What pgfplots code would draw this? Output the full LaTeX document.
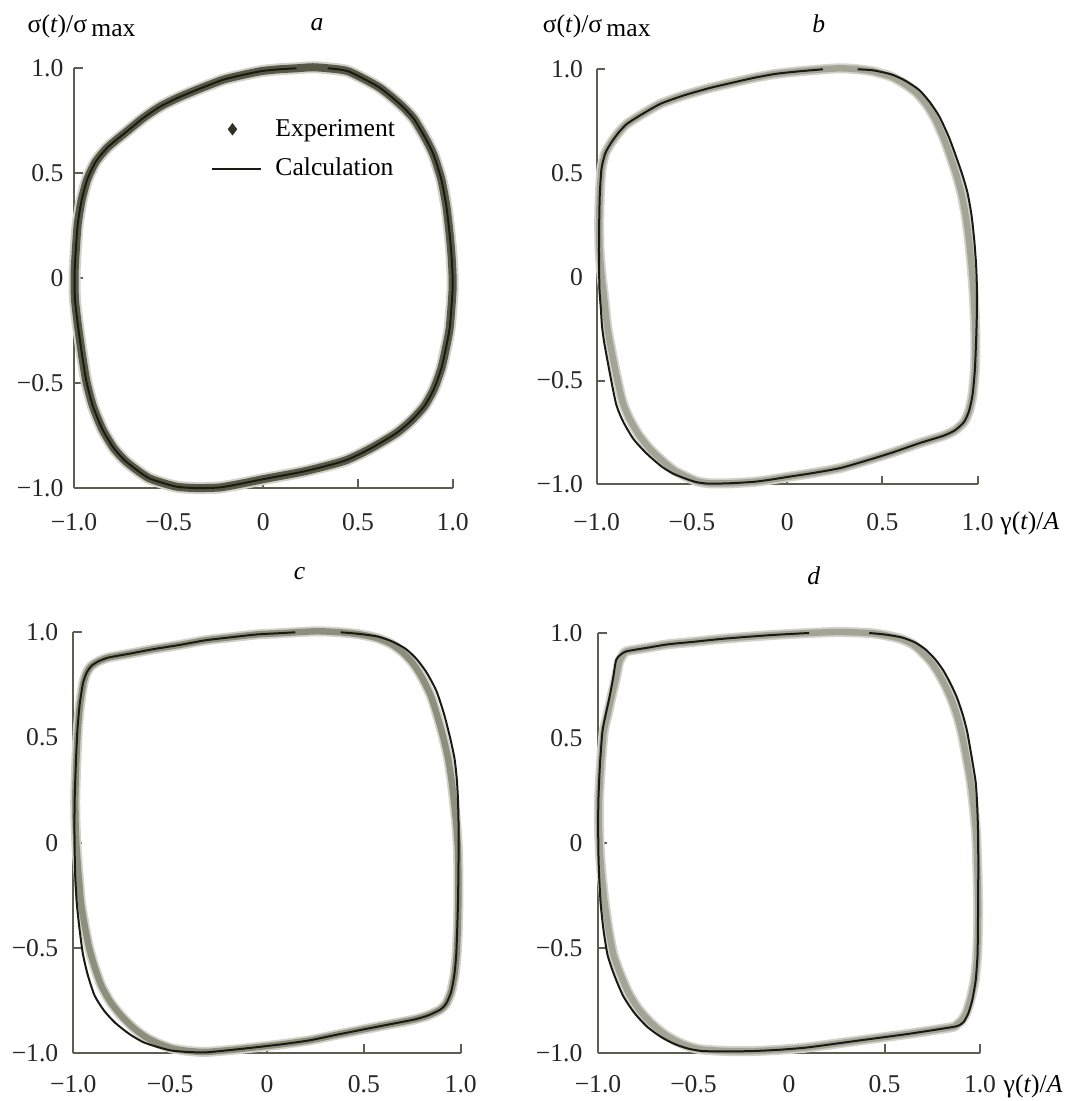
\documentclass[border=0pt]{standalone}
\usepackage{fontspec}
\setmainfont{Liberation Serif}
\usepackage{pgfplots}
\pgfplotsset{compat=1.18}

\definecolor{axcol}{HTML}{5E5E50}
\definecolor{banddark}{HTML}{585846}
\definecolor{bandlight}{HTML}{A3A396}
\definecolor{bandmid}{HTML}{8E8E7C}
\definecolor{halocol}{HTML}{D2D2CA}
\definecolor{calccol}{HTML}{1A1A14}

\newcommand{\lblfont}{\fontsize{12.8}{15}\selectfont}

\pgfplotsset{
  loop/.style={
    scale only axis, axis lines=left,
    axis line style={-, draw=axcol, line width=1pt},
    xmin=-1, xmax=1, ymin=-1, ymax=1,
    xtick={-1,-0.5,0,0.5,1}, ytick={-1,-0.5,0,0.5,1},
    xticklabels={−1.0,−0.5,0,0.5,1.0},
    yticklabels={−1.0,−0.5,0,0.5,1.0},
    tick align=inside, major tick length=4.3pt,
    tick style={draw=axcol, line width=1pt},
    tick label style={font=\lblfont, text=black!85},
    clip=false, anchor=south west,
  },
  halo/.style={draw=halocol, line width=#1, smooth, tension=0.4, no markers, line join=round, forget plot},
  halo/.default=5pt,
  exper/.style 2 args={draw=#1, line width=#2, smooth, tension=0.4, no markers, line join=round, forget plot},
  calc/.style={draw=calccol, line width=1pt, smooth, tension=0.4, no markers, line join=round, forget plot},
}

\begin{document}
\begin{tikzpicture}
\path[use as bounding box] (0,0) rectangle (534.5pt,550.5pt);

% ---------------- panel a ----------------
\begin{axis}[loop, at={(37pt,306.5pt)}, width=189.35pt, height=209.85pt,
  xticklabel style={yshift=-9.2pt}, yticklabel style={xshift=-1.8pt},
  legend style={at={(0.362,0.889)}, anchor=north west, draw=none, fill=none,
    font=\lblfont, inner sep=0pt, row sep=5.5pt, legend cell align=left,
    /tikz/every odd column/.append style={column sep=4.5pt}}]
\addplot[halo=6pt] coordinates {
(0.175,1.0)(0.26,1.005)(0.34,1.0)(0.45,0.985)(0.61,0.91)(0.72,0.83)(0.794,0.76)(0.86,0.66)(0.90,0.585)(0.94,0.47)(0.967,0.34)(0.985,0.20)(0.995,0.09)(1.0,-0.04)(0.985,-0.23)(0.965,-0.33)(0.94,-0.43)(0.90,-0.53)(0.85,-0.61)(0.78,-0.68)(0.70,-0.74)(0.57,-0.81)(0.43,-0.87)(0.22,-0.92)(0.01,-0.956)(-0.12,-0.98)(-0.226,-0.997)(-0.30,-1.0)(-0.37,-1.0)(-0.45,-0.995)(-0.517,-0.98)(-0.60,-0.955)(-0.66,-0.92)(-0.73,-0.87)(-0.79,-0.81)(-0.85,-0.72)(-0.90,-0.61)(-0.935,-0.49)(-0.96,-0.35)(-0.98,-0.22)(-0.995,-0.10)(-0.997,0.02)(-0.99,0.14)(-0.98,0.26)(-0.96,0.37)(-0.93,0.47)(-0.885,0.555)(-0.82,0.625)(-0.72,0.70)(-0.63,0.766)(-0.54,0.82)(-0.44,0.864)(-0.33,0.905)(-0.21,0.946)(-0.10,0.97)(-0.007,0.987)(0.08,0.995)(0.175,1.0)};
\addplot[exper={banddark}{4pt}] coordinates {
(0.175,1.0)(0.26,1.005)(0.34,1.0)(0.45,0.985)(0.61,0.91)(0.72,0.83)(0.794,0.76)(0.86,0.66)(0.90,0.585)(0.94,0.47)(0.967,0.34)(0.985,0.20)(0.995,0.09)(1.0,-0.04)(0.985,-0.23)(0.965,-0.33)(0.94,-0.43)(0.90,-0.53)(0.85,-0.61)(0.78,-0.68)(0.70,-0.74)(0.57,-0.81)(0.43,-0.87)(0.22,-0.92)(0.01,-0.956)(-0.12,-0.98)(-0.226,-0.997)(-0.30,-1.0)(-0.37,-1.0)(-0.45,-0.995)(-0.517,-0.98)(-0.60,-0.955)(-0.66,-0.92)(-0.73,-0.87)(-0.79,-0.81)(-0.85,-0.72)(-0.90,-0.61)(-0.935,-0.49)(-0.96,-0.35)(-0.98,-0.22)(-0.995,-0.10)(-0.997,0.02)(-0.99,0.14)(-0.98,0.26)(-0.96,0.37)(-0.93,0.47)(-0.885,0.555)(-0.82,0.625)(-0.72,0.70)(-0.63,0.766)(-0.54,0.82)(-0.44,0.864)(-0.33,0.905)(-0.21,0.946)(-0.10,0.97)(-0.007,0.987)(0.08,0.995)(0.175,1.0)};
\addplot[calc] coordinates {
(0.34,1.0)(0.45,0.985)(0.61,0.91)(0.72,0.83)(0.794,0.76)(0.86,0.66)(0.90,0.585)(0.94,0.47)(0.967,0.34)(0.985,0.20)(0.995,0.09)(1.0,-0.04)(0.985,-0.23)(0.965,-0.33)(0.94,-0.43)(0.90,-0.53)(0.85,-0.61)(0.78,-0.68)(0.70,-0.74)(0.57,-0.81)(0.43,-0.87)(0.22,-0.92)(0.01,-0.956)(-0.12,-0.98)(-0.226,-0.997)(-0.30,-1.0)(-0.37,-1.0)(-0.45,-0.995)(-0.517,-0.98)(-0.60,-0.955)(-0.66,-0.92)(-0.73,-0.87)(-0.79,-0.81)(-0.85,-0.72)(-0.90,-0.61)(-0.935,-0.49)(-0.96,-0.35)(-0.98,-0.22)(-0.995,-0.10)(-0.997,0.02)(-0.99,0.14)(-0.98,0.26)(-0.96,0.37)(-0.93,0.47)(-0.885,0.555)(-0.82,0.625)(-0.72,0.70)(-0.63,0.766)(-0.54,0.82)(-0.44,0.864)(-0.33,0.905)(-0.21,0.946)(-0.10,0.97)(-0.007,0.987)(0.08,0.995)(0.175,1.0)};
\addlegendimage{legend image code/.code={
  \path[draw=none] (0pt,0pt) -- (24.5pt,0pt);
  \path plot[only marks, mark=diamond*, mark size=2.8pt, mark options={draw=banddark!55!black, fill=banddark!55!black}] coordinates {(10pt,0pt)};}}
\addlegendentry{Experiment}
\addlegendimage{legend image code/.code={\draw[calccol, line width=1pt] (0pt,0pt) -- (24.5pt,0pt);}}
\addlegendentry{Calculation}
\node[font=\lblfont\itshape, yshift=22pt] at (rel axis cs:0.642,1) {a};
\node[font=\lblfont, yshift=21pt] at (rel axis cs:0.02,1) {σ(\textit{t})/σ\,\raisebox{-0.35ex}{max}};
\end{axis}

% ---------------- panel b ----------------
\begin{axis}[loop, at={(298.35pt,308.35pt)}, width=190.5pt, height=207.5pt,
  xticklabel style={yshift=-11pt}, yticklabel style={xshift=-3.3pt}]
\addplot[halo] coordinates {
(0.187,1.0)(0.28,1.005)(0.37,1.0)(0.45,0.99)(0.545,0.965)(0.615,0.93)(0.68,0.885)(0.735,0.825)(0.78,0.755)(0.825,0.66)(0.862,0.565)(0.89,0.485)(0.915,0.40)(0.937,0.295)(0.955,0.17)(0.968,0.05)(0.978,-0.07)(0.985,-0.20)(0.988,-0.32)(0.985,-0.45)(0.973,-0.568)(0.955,-0.645)(0.928,-0.70)(0.88,-0.74)(0.82,-0.766)(0.70,-0.80)(0.548,-0.848)(0.40,-0.89)(0.277,-0.922)(0.14,-0.945)(0.006,-0.964)(-0.09,-0.978)(-0.174,-0.988)(-0.30,-0.995)(-0.41,-0.995)(-0.475,-0.985)(-0.53,-0.963)(-0.59,-0.935)(-0.645,-0.895)(-0.72,-0.83)(-0.78,-0.76)(-0.83,-0.68)(-0.865,-0.60)(-0.90,-0.46)(-0.93,-0.32)(-0.945,-0.24)(-0.955,-0.155)(-0.965,-0.07)(-0.975,0.01)(-0.985,0.13)(-0.987,0.257)(-0.984,0.39)(-0.975,0.52)(-0.955,0.595)(-0.925,0.645)(-0.885,0.695)(-0.84,0.738)(-0.75,0.79)(-0.662,0.835)(-0.54,0.875)(-0.41,0.909)(-0.29,0.935)(-0.174,0.959)(-0.06,0.978)(0.06,0.99)(0.187,1.0)};
\addplot[exper={bandlight}{3.2pt}] coordinates {
(0.187,1.0)(0.28,1.005)(0.37,1.0)(0.45,0.99)(0.545,0.965)(0.615,0.93)(0.68,0.885)(0.735,0.825)(0.78,0.755)(0.825,0.66)(0.862,0.565)(0.89,0.485)(0.915,0.40)(0.937,0.295)(0.955,0.17)(0.968,0.05)(0.978,-0.07)(0.985,-0.20)(0.988,-0.32)(0.985,-0.45)(0.973,-0.568)(0.955,-0.645)(0.928,-0.70)(0.88,-0.74)(0.82,-0.766)(0.70,-0.80)(0.548,-0.848)(0.40,-0.89)(0.277,-0.922)(0.14,-0.945)(0.006,-0.964)(-0.09,-0.978)(-0.174,-0.988)(-0.30,-0.995)(-0.41,-0.995)(-0.475,-0.985)(-0.53,-0.963)(-0.59,-0.935)(-0.645,-0.895)(-0.72,-0.83)(-0.78,-0.76)(-0.83,-0.68)(-0.865,-0.60)(-0.90,-0.46)(-0.93,-0.32)(-0.945,-0.24)(-0.955,-0.155)(-0.965,-0.07)(-0.975,0.01)(-0.985,0.13)(-0.987,0.257)(-0.984,0.39)(-0.975,0.52)(-0.955,0.595)(-0.925,0.645)(-0.885,0.695)(-0.84,0.738)(-0.75,0.79)(-0.662,0.835)(-0.54,0.875)(-0.41,0.909)(-0.29,0.935)(-0.174,0.959)(-0.06,0.978)(0.06,0.99)(0.187,1.0)};
\addplot[calc] coordinates {
(0.37,1.0)(0.45,0.995)(0.548,0.975)(0.62,0.945)(0.693,0.90)(0.75,0.84)(0.80,0.77)(0.85,0.67)(0.89,0.57)(0.92,0.49)(0.946,0.406)(0.967,0.30)(0.982,0.175)(0.992,0.05)(0.996,-0.07)(0.995,-0.20)(0.991,-0.32)(0.985,-0.45)(0.973,-0.568)(0.955,-0.645)(0.928,-0.70)(0.88,-0.74)(0.82,-0.766)(0.70,-0.80)(0.548,-0.848)(0.40,-0.89)(0.277,-0.922)(0.14,-0.945)(0.006,-0.964)(-0.09,-0.978)(-0.174,-0.988)(-0.30,-0.995)(-0.41,-0.997)(-0.475,-0.99)(-0.536,-0.972)(-0.60,-0.948)(-0.66,-0.914)(-0.74,-0.85)(-0.807,-0.782)(-0.86,-0.70)(-0.897,-0.617)(-0.93,-0.47)(-0.96,-0.32)(-0.972,-0.24)(-0.978,-0.155)(-0.985,-0.07)(-0.987,0.01)(-0.988,0.13)(-0.987,0.257)(-0.984,0.39)(-0.975,0.52)(-0.955,0.595)(-0.925,0.645)(-0.885,0.695)(-0.84,0.738)(-0.75,0.79)(-0.662,0.835)(-0.54,0.875)(-0.41,0.909)(-0.29,0.935)(-0.174,0.959)(-0.06,0.978)(0.06,0.99)(0.187,1.0)};
\node[font=\lblfont\itshape, yshift=22.6pt] at (rel axis cs:0.583,1) {b};
\node[font=\lblfont, yshift=21.6pt] at (rel axis cs:0.0,1) {σ(\textit{t})/σ\,\raisebox{-0.35ex}{max}};
\node[font=\lblfont, yshift=-19.5pt] at (rel axis cs:1.137,0) {γ(\textit{t})/\textit{A}};
\end{axis}

% ---------------- panel c ----------------
\begin{axis}[loop, at={(36.65pt,24pt)}, width=193.7pt, height=210.35pt,
  xticklabel style={yshift=-7.5pt}, yticklabel style={xshift=-4pt}]
\addplot[halo] coordinates {
(0.146,1.0)(0.26,1.005)(0.38,1.0)(0.48,0.99)(0.57,0.972)(0.64,0.945)(0.70,0.905)(0.755,0.85)(0.80,0.785)(0.845,0.70)(0.88,0.60)(0.91,0.50)(0.935,0.40)(0.952,0.30)(0.965,0.20)(0.978,0.08)(0.986,-0.04)(0.988,-0.16)(0.988,-0.287)(0.985,-0.41)(0.979,-0.531)(0.968,-0.63)(0.95,-0.711)(0.925,-0.765)(0.896,-0.793)(0.83,-0.822)(0.754,-0.842)(0.62,-0.866)(0.486,-0.89)(0.35,-0.915)(0.218,-0.94)(0.08,-0.958)(-0.05,-0.972)(-0.18,-0.985)(-0.318,-0.995)(-0.41,-0.99)(-0.49,-0.978)(-0.56,-0.955)(-0.625,-0.925)(-0.69,-0.88)(-0.755,-0.82)(-0.81,-0.755)(-0.855,-0.68)(-0.89,-0.59)(-0.918,-0.50)(-0.94,-0.40)(-0.96,-0.287)(-0.972,-0.16)(-0.982,-0.04)(-0.988,0.08)(-0.99,0.203)(-0.985,0.37)(-0.977,0.53)(-0.966,0.65)(-0.948,0.758)(-0.93,0.81)(-0.907,0.84)(-0.87,0.862)(-0.818,0.88)(-0.70,0.90)(-0.586,0.92)(-0.45,0.94)(-0.318,0.962)(-0.18,0.977)(-0.05,0.99)(0.05,0.995)(0.146,1.0)};
\addplot[exper={bandmid}{3.2pt}] coordinates {
(0.146,1.0)(0.26,1.005)(0.38,1.0)(0.48,0.99)(0.57,0.972)(0.64,0.945)(0.70,0.905)(0.755,0.85)(0.80,0.785)(0.845,0.70)(0.88,0.60)(0.91,0.50)(0.935,0.40)(0.952,0.30)(0.965,0.20)(0.978,0.08)(0.986,-0.04)(0.988,-0.16)(0.988,-0.287)(0.985,-0.41)(0.979,-0.531)(0.968,-0.63)(0.95,-0.711)(0.925,-0.765)(0.896,-0.793)(0.83,-0.822)(0.754,-0.842)(0.62,-0.866)(0.486,-0.89)(0.35,-0.915)(0.218,-0.94)(0.08,-0.958)(-0.05,-0.972)(-0.18,-0.985)(-0.318,-0.995)(-0.41,-0.99)(-0.49,-0.978)(-0.56,-0.955)(-0.625,-0.925)(-0.69,-0.88)(-0.755,-0.82)(-0.81,-0.755)(-0.855,-0.68)(-0.89,-0.59)(-0.918,-0.50)(-0.94,-0.40)(-0.96,-0.287)(-0.972,-0.16)(-0.982,-0.04)(-0.988,0.08)(-0.99,0.203)(-0.985,0.37)(-0.977,0.53)(-0.966,0.65)(-0.948,0.758)(-0.93,0.81)(-0.907,0.84)(-0.87,0.862)(-0.818,0.88)(-0.70,0.90)(-0.586,0.92)(-0.45,0.94)(-0.318,0.962)(-0.18,0.977)(-0.05,0.99)(0.05,0.995)(0.146,1.0)};
\addplot[calc] coordinates {
(0.38,1.0)(0.48,0.992)(0.575,0.979)(0.65,0.955)(0.718,0.92)(0.775,0.87)(0.825,0.807)(0.875,0.72)(0.914,0.611)(0.945,0.50)(0.968,0.40)(0.98,0.30)(0.986,0.203)(0.989,0.08)(0.989,-0.04)(0.988,-0.16)(0.986,-0.287)(0.982,-0.41)(0.977,-0.531)(0.967,-0.63)(0.95,-0.711)(0.925,-0.765)(0.896,-0.793)(0.83,-0.822)(0.754,-0.842)(0.62,-0.866)(0.486,-0.89)(0.35,-0.915)(0.218,-0.94)(0.08,-0.958)(-0.05,-0.972)(-0.18,-0.985)(-0.318,-0.997)(-0.41,-0.995)(-0.496,-0.988)(-0.57,-0.97)(-0.64,-0.948)(-0.71,-0.91)(-0.782,-0.858)(-0.84,-0.80)(-0.89,-0.727)(-0.925,-0.63)(-0.95,-0.531)(-0.968,-0.41)(-0.982,-0.287)(-0.99,-0.16)(-0.993,-0.04)(-0.994,0.08)(-0.993,0.203)(-0.987,0.37)(-0.979,0.53)(-0.968,0.65)(-0.95,0.758)(-0.93,0.81)(-0.907,0.84)(-0.87,0.862)(-0.818,0.88)(-0.70,0.90)(-0.586,0.92)(-0.45,0.94)(-0.318,0.962)(-0.18,0.977)(-0.05,0.99)(0.05,0.995)(0.146,1.0)};
\node[font=\lblfont\itshape, yshift=29.2pt] at (rel axis cs:0.584,1) {c};
\end{axis}

% ---------------- panel d ----------------
\begin{axis}[loop, at={(299pt,24.15pt)}, width=191pt, height=209.85pt,
  xticklabel style={yshift=-8.1pt}, yticklabel style={xshift=-4.3pt}]
\addplot[halo] coordinates {
(0.105,1.0)(0.26,1.005)(0.42,1.0)(0.50,0.99)(0.585,0.972)(0.65,0.945)(0.70,0.905)(0.745,0.86)(0.785,0.805)(0.82,0.745)(0.852,0.68)(0.882,0.60)(0.905,0.52)(0.93,0.40)(0.952,0.284)(0.968,0.16)(0.98,0.038)(0.986,-0.12)(0.99,-0.289)(0.989,-0.41)(0.985,-0.534)(0.973,-0.65)(0.95,-0.747)(0.928,-0.81)(0.905,-0.845)(0.88,-0.865)(0.861,-0.877)(0.75,-0.893)(0.627,-0.91)(0.49,-0.927)(0.357,-0.943)(0.22,-0.96)(0.086,-0.976)(-0.05,-0.986)(-0.184,-0.992)(-0.32,-0.992)(-0.454,-0.985)(-0.525,-0.97)(-0.59,-0.945)(-0.655,-0.91)(-0.72,-0.86)(-0.785,-0.795)(-0.84,-0.715)(-0.885,-0.62)(-0.92,-0.53)(-0.945,-0.41)(-0.965,-0.289)(-0.98,-0.16)(-0.99,-0.043)(-0.995,0.08)(-0.995,0.202)(-0.985,0.37)(-0.97,0.529)(-0.95,0.61)(-0.93,0.693)(-0.905,0.79)(-0.89,0.86)(-0.87,0.895)(-0.85,0.913)(-0.74,0.93)(-0.634,0.946)(-0.50,0.958)(-0.364,0.971)(-0.23,0.981)(-0.094,0.99)(0.0,0.995)(0.105,1.0)};
\addplot[exper={bandlight}{3.2pt}] coordinates {
(0.105,1.0)(0.26,1.005)(0.42,1.0)(0.50,0.99)(0.585,0.972)(0.65,0.945)(0.70,0.905)(0.745,0.86)(0.785,0.805)(0.82,0.745)(0.852,0.68)(0.882,0.60)(0.905,0.52)(0.93,0.40)(0.952,0.284)(0.968,0.16)(0.98,0.038)(0.986,-0.12)(0.99,-0.289)(0.989,-0.41)(0.985,-0.534)(0.973,-0.65)(0.95,-0.747)(0.928,-0.81)(0.905,-0.845)(0.88,-0.865)(0.861,-0.877)(0.75,-0.893)(0.627,-0.91)(0.49,-0.927)(0.357,-0.943)(0.22,-0.96)(0.086,-0.976)(-0.05,-0.986)(-0.184,-0.992)(-0.32,-0.992)(-0.454,-0.985)(-0.525,-0.97)(-0.59,-0.945)(-0.655,-0.91)(-0.72,-0.86)(-0.785,-0.795)(-0.84,-0.715)(-0.885,-0.62)(-0.92,-0.53)(-0.945,-0.41)(-0.965,-0.289)(-0.98,-0.16)(-0.99,-0.043)(-0.995,0.08)(-0.995,0.202)(-0.985,0.37)(-0.97,0.529)(-0.95,0.61)(-0.93,0.693)(-0.905,0.79)(-0.89,0.86)(-0.87,0.895)(-0.85,0.913)(-0.74,0.93)(-0.634,0.946)(-0.50,0.958)(-0.364,0.971)(-0.23,0.981)(-0.094,0.99)(0.0,0.995)(0.105,1.0)};
\addplot[calc] coordinates {
(0.42,1.0)(0.50,0.993)(0.59,0.979)(0.66,0.955)(0.717,0.92)(0.765,0.875)(0.807,0.823)(0.845,0.76)(0.879,0.693)(0.91,0.61)(0.933,0.529)(0.958,0.40)(0.978,0.284)(0.986,0.16)(0.99,0.038)(0.991,-0.12)(0.99,-0.289)(0.989,-0.41)(0.987,-0.534)(0.978,-0.65)(0.96,-0.747)(0.94,-0.81)(0.915,-0.853)(0.89,-0.87)(0.861,-0.877)(0.75,-0.893)(0.627,-0.91)(0.49,-0.927)(0.357,-0.943)(0.22,-0.96)(0.086,-0.976)(-0.05,-0.986)(-0.184,-0.992)(-0.32,-0.994)(-0.454,-0.992)(-0.53,-0.98)(-0.598,-0.959)(-0.67,-0.925)(-0.742,-0.877)(-0.81,-0.81)(-0.868,-0.73)(-0.915,-0.63)(-0.95,-0.534)(-0.972,-0.41)(-0.986,-0.289)(-0.994,-0.16)(-0.998,-0.043)(-0.999,0.08)(-0.998,0.202)(-0.99,0.37)(-0.977,0.529)(-0.96,0.61)(-0.94,0.693)(-0.92,0.79)(-0.905,0.872)(-0.88,0.898)(-0.85,0.913)(-0.74,0.93)(-0.634,0.946)(-0.50,0.958)(-0.364,0.971)(-0.23,0.981)(-0.094,0.99)(0.0,0.995)(0.105,1.0)};
\node[font=\lblfont\itshape, yshift=28.8pt] at (rel axis cs:0.565,1) {d};
\node[font=\lblfont, yshift=-16.6pt] at (rel axis cs:1.139,0) {γ(\textit{t})/\textit{A}};
\end{axis}
\end{tikzpicture}
\end{document}
